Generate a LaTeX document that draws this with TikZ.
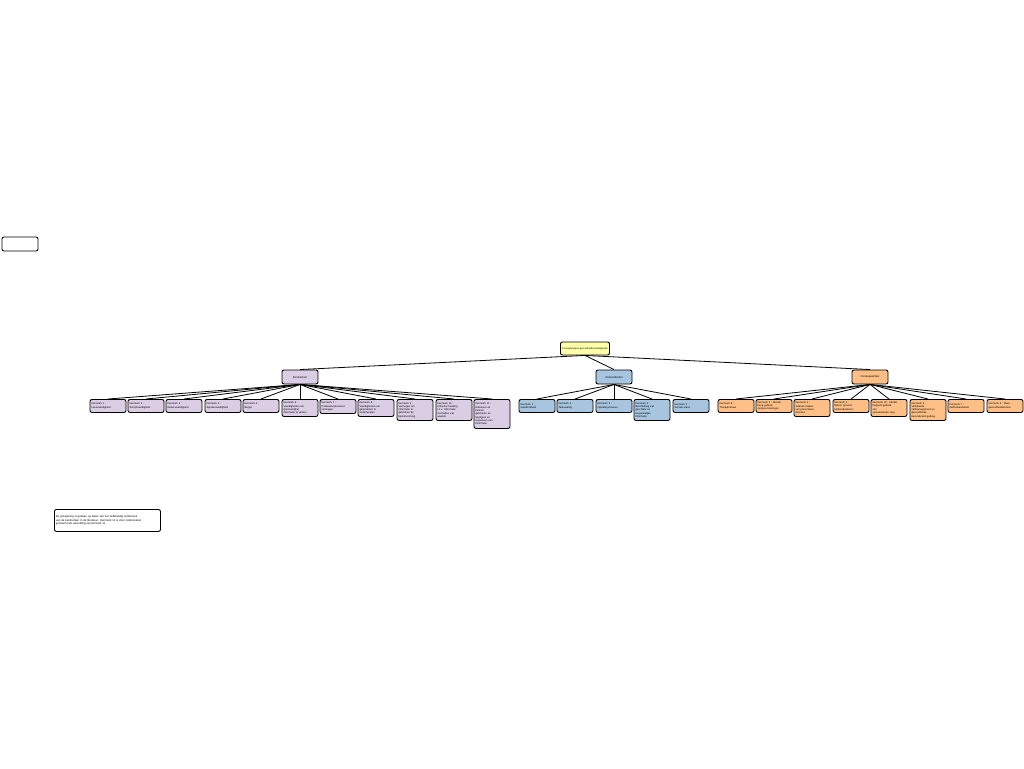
\documentclass[tikz,border=0pt]{standalone}
\usepackage{fontspec}
\setmainfont{Liberation Sans}

\definecolor{rootcol}{HTML}{FFFFAA}
\definecolor{kenmcol}{HTML}{DACDE4}
\definecolor{antecol}{HTML}{A8C5E0}
\definecolor{conscol}{HTML}{FDBF86}

\begin{document}
\begin{tikzpicture}[x=1pt, y=-1pt, line width=0.8pt,
		main/.style = {draw, rounded corners=2pt, line width=0.9pt, inner sep=1.5pt, font=\fontsize{2.6}{3.3}\selectfont},
		root/.style = {main, fill=rootcol, minimum width=46pt, minimum height=13pt, font=\fontsize{2.4}{3}\selectfont},
		group/.style = {main, minimum width=36pt, minimum height=14pt, font=\fontsize{2.8}{3.4}\selectfont},
		leaf/.style = {main, anchor=north, text width=33pt, align=left, minimum height=13pt},
		kleaf/.style = {leaf, fill=kenmcol},
		aleaf/.style = {leaf, fill=antecol},
		cleaf/.style = {leaf, fill=conscol}]
			\useasboundingbox (0,0) rectangle (1024,768);
			
			\node[main, fill=white, minimum width=36pt, minimum height=14pt] (blank) at (20,244) {};
			
			\node[root] (0) at (585,348.5) {Conceptanalyse gezondheidsvaardigheden};
			\node[group, fill=kenmcol] (k) at (300,377) {Kenmerken};
			\node[group, fill=antecol] (a) at (614,377) {Antecedenten};
			\node[group, fill=conscol] (c) at (870,377) {Consequenties};
			
			% kenmerken
			\node[kleaf] (k1) at (108,399) {Kenmerk 1 :\\Leesvaardigheid};
			\node[kleaf] (k2) at (146,399) {Kenmerk 2 :\\Schrijfvaardigheid};
			\node[kleaf] (k3) at (184,399) {Kenmerk 3 :\\Rekenvaardigheid};
			\node[kleaf] (k4) at (223,399) {Kenmerk 4 :\\Spreekvaardigheid};
			\node[kleaf] (k5) at (261,399) {Kenmerk 5 :\\Begrip};
			\node[kleaf, minimum height=17pt] (k6) at (300,399) {Kenmerk 6 :\\Vaardigheden om\\(persoonlijke)\\informatie te vinden};
			\node[kleaf, minimum height=14pt] (k7) at (338,399) {Kenmerk 7 :\\Probleemoplossend\\vermogen};
			\node[kleaf, minimum height=17pt] (k8) at (376,399) {Kenmerk 8 :\\Vaardigheden om\\gesprekken te\\onderhouden};
			\node[kleaf, minimum height=21pt] (k9) at (415,399) {Kenmerk 9 :\\Vermogen om\\informatie te\\gebruiken bij\\besluitvorming};
			\node[kleaf, minimum height=21pt] (k10) at (454,399) {Kenmerk 10 :\\Kritische houding\\t.o.v. informatie\\inschatten van\\waarde};
			\node[kleaf, minimum height=29pt] (k11) at (492,399) {Kenmerk 11 :\\Erkennen en\\kunnen\\gebruiken en\\begrijpen en\\toepassen van\\informatie};
			
			% antecedenten
			\node[aleaf] (a1) at (537,399) {Kenmerk 1 :\\Geletterdheid};
			\node[aleaf] (a2) at (575,399) {Kenmerk 2 :\\Taalvaardig};
			\node[aleaf] (a3) at (614,399) {Kenmerk 3 :\\Opleidingsniveau};
			\node[aleaf, minimum height=21pt] (a4) at (652,399) {Kenmerk 4 :\\Beschikking van\\geschikte en\\toegankelijke\\informatie};
			\node[aleaf] (a5) at (691,399) {Kenmerk 5 :\\Sociale steun};
			
			% consequenties
			\node[cleaf] (c1) at (736,399) {Kenmerk 8 :\\Therapietrouw};
			\node[cleaf] (c2) at (774,399) {Kenmerk 2 : Minder\\hoog gebruik\\zorgvoorzieningen};
			\node[cleaf, minimum height=17pt] (c3) at (812,399) {Kenmerk 3 :\\Gebruik maken\\van preventieve\\diensten};
			\node[cleaf] (c4) at (851,399) {Kenmerk 4 :\\Betere gezond-\\heidsuitkomsten};
			\node[cleaf, minimum height=17pt] (c5) at (889,399) {Kenmerk 10 : Minder\\frequent gebruik\\van\\spoedeisende zorg};
			\node[cleaf, minimum height=21pt] (c6) at (928,399) {Kenmerk 5 :\\Verbeterde\\zelfmanagement en\\gezondheids-\\bevorderend gedrag};
			\node[cleaf] (c7) at (966,399) {Kenmerk 7 :\\Zelfredzaamheid};
			\node[cleaf] (c8) at (1005,399) {Kenmerk 6 : Meer\\gezondheidskennis};
			
			\node[main, fill=white, anchor=north west, text width=103pt, align=left, minimum height=22pt, font=\fontsize{2.8}{3.5}\selectfont] (note) at (54,509) {De groepering is gedaan op basis van het zelfstandig onderzoek\\van de kenmerken in de literatuur. Kenmerk 11 is door onderzoeker\\genoemd als aanvulling op kenmerk 11};
			
			\draw (0.south) -- (k.north);
			\draw (0.south) -- (a.north);
			\draw (0.south) -- (c.north);
			
			\draw (k.south) -- (k1.north);
			\draw (k.south) -- (k2.north);
			\draw (k.south) -- (k3.north);
			\draw (k.south) -- (k4.north);
			\draw (k.south) -- (k5.north);
			\draw (k.south) -- (k6.north);
			\draw (k.south) -- (k7.north);
			\draw (k.south) -- (k8.north);
			\draw (k.south) -- (k9.north);
			\draw (k.south) -- (k10.north);
			\draw (k.south) -- (k11.north);
			
			\draw (a.south) -- (a1.north);
			\draw (a.south) -- (a2.north);
			\draw (a.south) -- (a3.north);
			\draw (a.south) -- (a4.north);
			\draw (a.south) -- (a5.north);
			
			\draw (c.south) -- (c1.north);
			\draw (c.south) -- (c2.north);
			\draw (c.south) -- (c3.north);
			\draw (c.south) -- (c4.north);
			\draw (c.south) -- (c5.north);
			\draw (c.south) -- (c6.north);
			\draw (c.south) -- (c7.north);
			\draw (c.south) -- (c8.north);
		\end{tikzpicture}
\end{document}
